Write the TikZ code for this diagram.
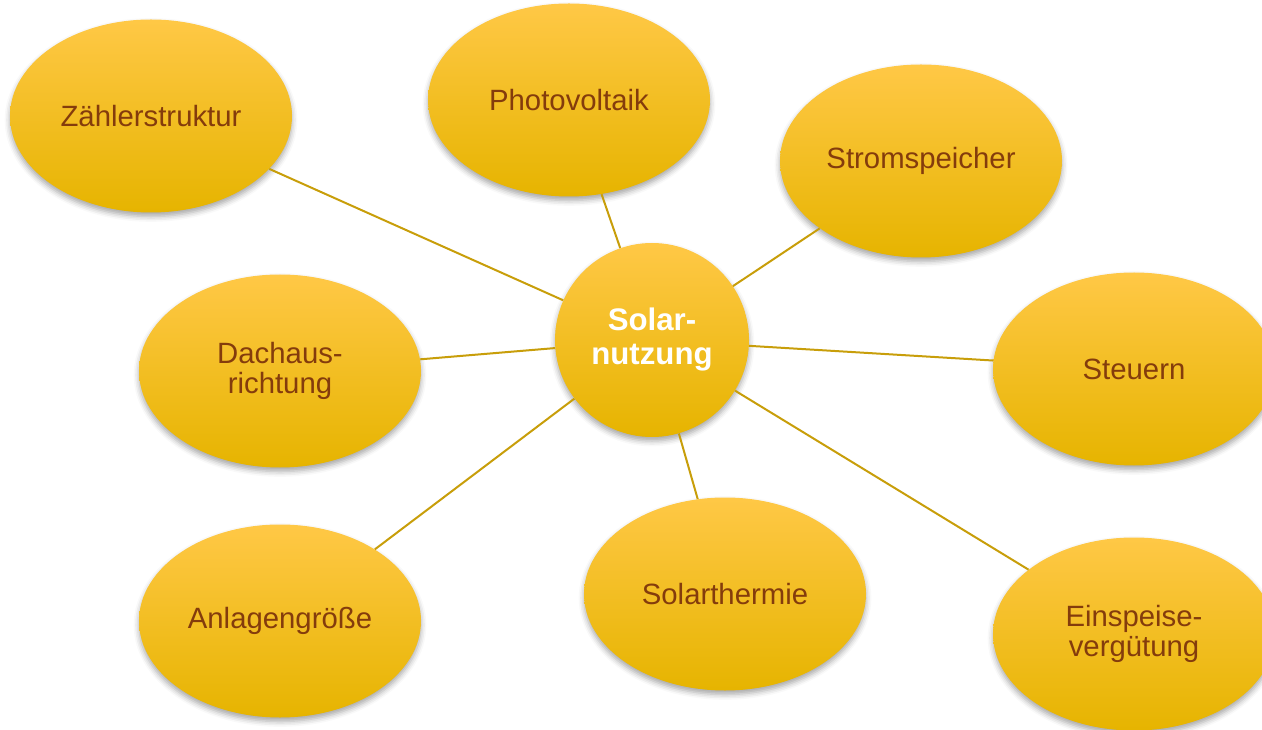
\documentclass[tikz,border=0pt]{standalone}
\usepackage{fontspec}
\setmainfont{Liberation Sans}
\usetikzlibrary{shapes.geometric,shadows.blur}
\definecolor{goldtop}{RGB}{255,200,70}
\definecolor{goldmid}{RGB}{255,198,0}
\definecolor{goldbot}{RGB}{230,180,0}
\definecolor{txtbrown}{RGB}{132,60,12}
\definecolor{linegold}{RGB}{200,158,10}
\tikzset{
  bubble/.style={ellipse, inner sep=0pt, minimum width=211.5pt, minimum height=144.75pt,
    shading=axis, top color=goldtop, middle color=goldmid, bottom color=goldbot,
    blur shadow={shadow xshift=0pt, shadow yshift=-3pt, shadow blur radius=4pt, shadow opacity=35},
    text=txtbrown, align=center, font=\fontsize{22pt}{23pt}\selectfont},
  hub/.style={circle, inner sep=0pt, minimum size=145.5pt,
    shading=axis, top color=goldtop, middle color=goldmid, bottom color=goldbot,
    blur shadow={shadow xshift=0pt, shadow yshift=-3pt, shadow blur radius=4pt, shadow opacity=35},
    text=white, align=center, font=\bfseries\fontsize{23.4pt}{25.5pt}\selectfont},
  spoke/.style={draw=linegold, line width=1.5pt}
}
\begin{document}
\begin{tikzpicture}[x=0.75pt,y=-0.75pt]
\useasboundingbox (0,0) rectangle (1262,730);
\node[bubble] (zs) at (151,116) {Zählerstruktur};
\node[bubble] (pv) at (569,100) {Photovoltaik};
\node[bubble] (ss) at (921,161) {Stromspeicher};
\node[bubble] (st) at (1134,369) {Steuern};
\node[bubble] (da) at (280,371) {Dachaus-\\richtung};
\node[bubble] (ag) at (280,621) {Anlagengröße};
\node[bubble] (sth) at (725,594) {Solarthermie};
\node[bubble] (ev) at (1134,634) {Einspeise-\\vergütung};
\node[hub] (c) at (652,340) {Solar-\\nutzung};
\foreach \n in {zs,pv,ss,st,da,ag,sth,ev}{
  \draw[spoke] (c) -- (\n);
}
\end{tikzpicture}
\end{document}
